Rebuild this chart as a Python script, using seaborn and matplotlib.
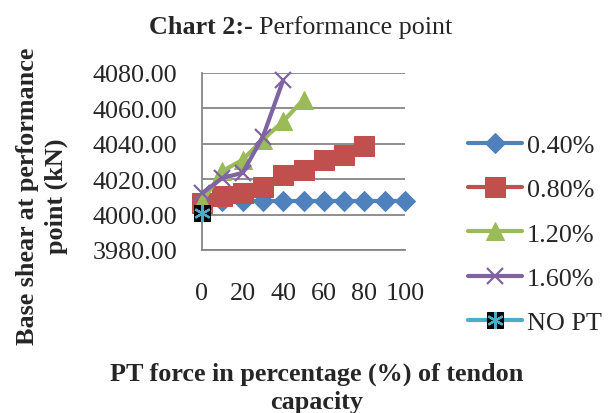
import numpy as np
import pandas as pd
import matplotlib
matplotlib.use("Agg")
import matplotlib.pyplot as plt
import seaborn as sns
from matplotlib.ticker import FormatStrFormatter

# ==========================================
# data
# ==========================================
x_040 = [0, 10, 20, 30, 40, 50, 60, 70, 80, 90, 100]
y_040 = [4007.5, 4007.5, 4007.5, 4007.5, 4007.5, 4007.5, 4007.5, 4007.5, 4007.5, 4007.5, 4007.5]

x_080 = [0, 10, 20, 30, 40, 50, 60, 70, 80]
y_080 = [4006.5, 4010.3, 4012.3, 4015.6, 4022.6, 4025.0, 4031.1, 4033.9, 4038.6]

x_120 = [0, 10, 20, 30, 40, 50]
y_120 = [4007.0, 4024.5, 4031.0, 4042.4, 4052.7, 4065.0]

x_160 = [0, 10, 20, 30, 40]
y_160 = [4012.0, 4020.7, 4023.6, 4044.0, 4076.0]

x_nopt = [0]
y_nopt = [4001.0]

series_names = ['0.40%', '0.80%', '1.20%', '1.60%', 'NO PT']
y_ticks = [3980, 4000, 4020, 4040, 4060, 4080]
x_ticks = [0, 20, 40, 60, 80, 100]

frames = []
for name, xs, ys in zip(series_names,
                        [x_040, x_080, x_120, x_160, x_nopt],
                        [y_040, y_080, y_120, y_160, y_nopt]):
    frames.append(pd.DataFrame({'pt': xs, 'shear': ys, 'series': name}))
df = pd.concat(frames, ignore_index=True)

# ==========================================
# style
# ==========================================
sns.set_style('white')
plt.rcParams['font.family'] = ['Liberation Serif', 'DejaVu Serif']
FS = 18.8
GRID = '#868686'

colors = {'0.40%': '#4F81BD', '0.80%': '#C0504D', '1.20%': '#9BBB59',
          '1.60%': '#8064A2', 'NO PT': '#4BACC6'}
markers = {'0.40%': 'D', '0.80%': 's', '1.20%': '^', '1.60%': 'x', 'NO PT': 's'}
msizes = {'0.40%': 10.5, '0.80%': 14, '1.20%': 13, '1.60%': 11, 'NO PT': 12}

fig = plt.figure(figsize=(6.12, 4.14), dpi=100)
ax = fig.add_axes([202 / 612, 1 - 251 / 414, 203 / 612, 177 / 414])

handles = {}
for i, name in enumerate(series_names):
    sub = df[df['series'] == name]
    kw = dict(color=colors[name], linewidth=3, marker=markers[name],
              markersize=msizes[name], clip_on=False, zorder=3 + i)
    if name == '1.60%':
        kw.update(markeredgewidth=1.6, markeredgecolor=colors[name])
    elif name == 'NO PT':
        kw.update(markerfacecolor='black', markeredgecolor='black')
    else:
        kw.update(markeredgecolor=colors[name], markerfacecolor=colors[name])
    sns.lineplot(data=sub, x='pt', y='shear', ax=ax, label=name,
                 legend=False, **kw)
    handles[name] = ax.get_lines()[-1]

# cyan asterisk on top of the black NO PT square
star = ax.plot(x_nopt, y_nopt, linestyle='none', marker=(6, 2, 0),
               markersize=12, markeredgewidth=1.6, color=colors['NO PT'],
               clip_on=False, zorder=10)[0]

ax.set_xlim(0, 100)
ax.set_ylim(3980, 4080)
ax.set_xticks(x_ticks)
ax.set_yticks(y_ticks)
ax.yaxis.set_major_formatter(FormatStrFormatter('%.2f'))
ax.set_xlabel('')
ax.set_ylabel('')
ax.yaxis.grid(True, color=GRID, linewidth=1.3)
ax.set_axisbelow(True)
for side in ['top', 'right']:
    ax.spines[side].set_visible(False)
for side in ['left', 'bottom']:
    ax.spines[side].set_color(GRID)
    ax.spines[side].set_linewidth(1.3)
ax.tick_params(axis='x', direction='out', length=4, width=1.3, color=GRID,
               labelsize=FS, pad=19)
ax.tick_params(axis='y', direction='out', length=4, width=1.3, color=GRID,
               labelsize=FS, pad=14)

# title: bold prefix + regular text
fig.text(253 / 612, 1 - 34 / 414, 'Chart 2:-', ha='right', va='baseline',
         fontsize=FS, fontweight='bold')
fig.text(259 / 612, 1 - 34 / 414, 'Performance point', ha='left',
         va='baseline', fontsize=FS)

fig.text(42 / 612, 1 - 196 / 414, 'Base shear at performance\npoint (kN)',
         rotation=90, ha='center', va='center', fontsize=FS,
         fontweight='bold', linespacing=1.3, multialignment='center')
fig.text(317 / 612, 1 - 388 / 414, 'PT force in percentage (%) of tendon\ncapacity',
         ha='center', va='center', fontsize=FS, fontweight='bold',
         linespacing=1.3, multialignment='center')

leg_handles = [handles[n] for n in series_names[:4]] + [(handles['NO PT'], star)]
fig.legend(leg_handles, series_names, loc='upper left',
           bbox_to_anchor=(468 / 612, 1 - 135 / 414), frameon=False,
           fontsize=FS, handlelength=2.05, handletextpad=0.2,
           labelspacing=0.8, borderpad=0, borderaxespad=0)

fig.savefig('out.png', dpi=100)
